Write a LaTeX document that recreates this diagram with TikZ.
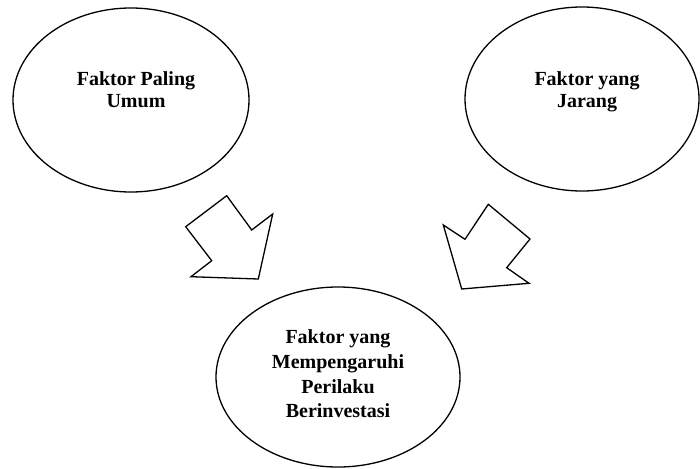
\documentclass[tikz,border=0pt]{standalone}
\usepackage{fontspec}
\setmainfont{Liberation Serif}
\usetikzlibrary{shapes.geometric}
\begin{document}
\begin{tikzpicture}[x=1pt,y=-1pt,
  oval/.style={draw=black,line width=1.3pt,ellipse,inner sep=0pt},
  lbl/.style={align=center,font=\fontsize{20}{22}\selectfont\bfseries,inner sep=0pt},
  blockarrow/.style={draw=black,line width=1.3pt,line join=miter,fill=white}]
\useasboundingbox (0,0) rectangle (700,468);
\node[oval,minimum width=236pt,minimum height=184pt] (common) at (131,100) {};
\node[oval,minimum width=234pt,minimum height=184pt] (rare) at (582,99) {};
\node[oval,minimum width=244pt,minimum height=180pt] (invest) at (338,377) {};
\node[lbl] (commonT) at ([xshift=5pt,yshift=10pt]common.center) {Faktor Paling\\Umum};
\node[lbl] (rareT) at ([xshift=5pt,yshift=7pt]rare.center) {Faktor yang\\Jarang};
\node[lbl,font=\fontsize{20}{24.7}\selectfont\bfseries] (investT) at ([yshift=3pt]invest.center) {Faktor yang\\Mempengaruhi\\Perilaku\\Berinvestasi};
\draw[blockarrow] (226.7,195.7) -- (251.7,230) -- (272.7,214) -- (258.3,279) -- (191,276.7) -- (211.7,260.7) -- (185.7,226.7) -- cycle;
\draw[blockarrow] (488.3,204.3) -- (530,239) -- (506.7,267.7) -- (529,283.3) -- (461.7,289) -- (443.3,225) -- (465,239.3) -- cycle;
\end{tikzpicture}
\end{document}
